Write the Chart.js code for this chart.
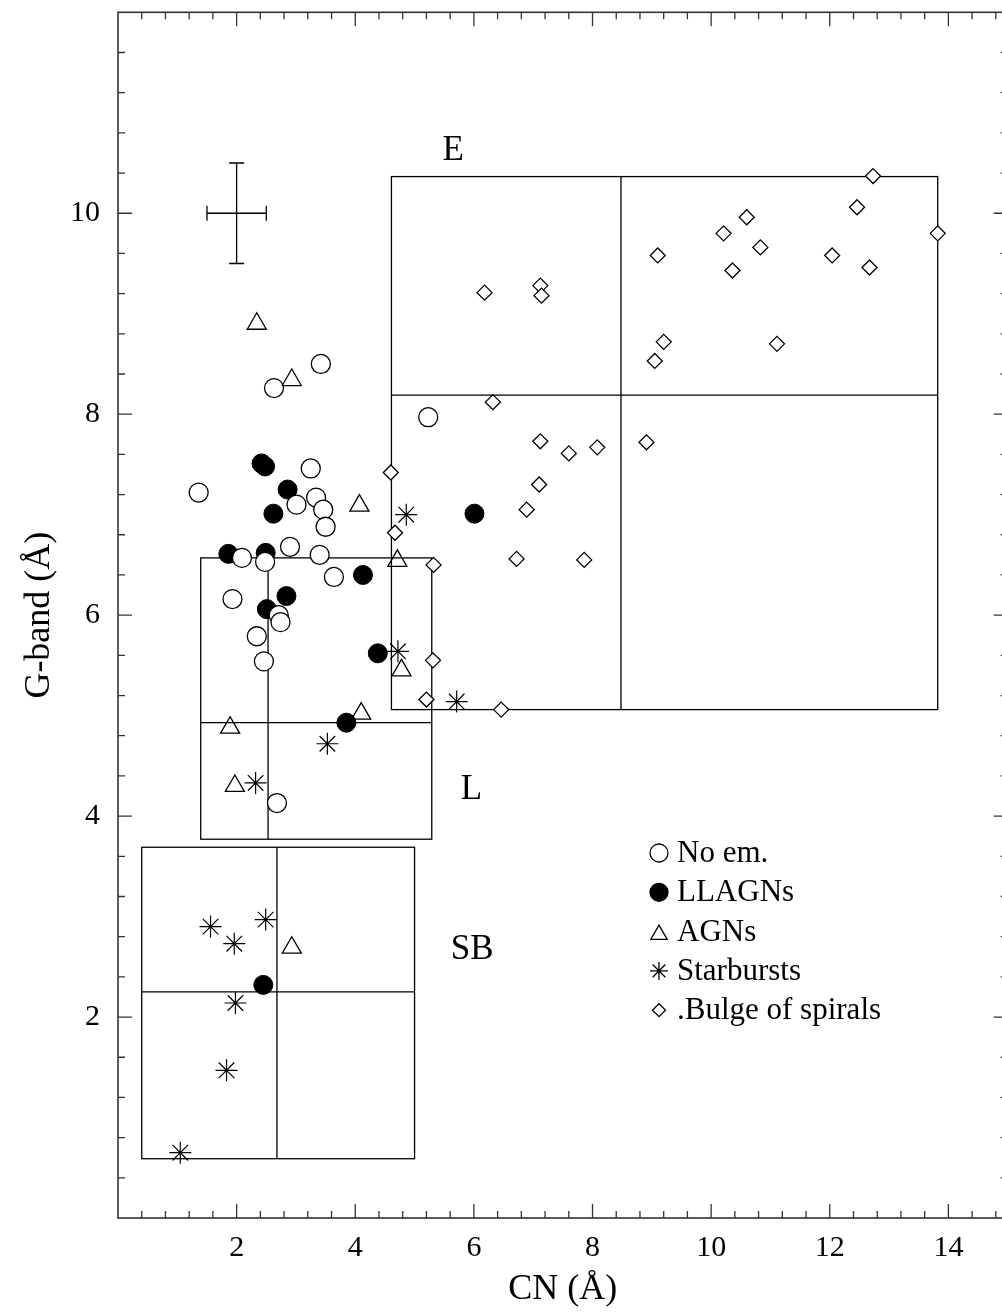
<!DOCTYPE html>
<html>
<head>
<meta charset="utf-8">
<script src="https://cdn.jsdelivr.net/npm/chart.js@4/dist/chart.umd.min.js"></script>
<style>
  html, body { margin: 0; padding: 0; overflow: hidden; background: #fff; }
  #wrap { width: 1020px; height: 1313px; }
</style>
</head>
<body>
<div id="wrap"><canvas id="c" width="1020" height="1313"></canvas></div>
<script>
// CN vs G-band equivalent widths (Å) for each galaxy class
const noEm = [
  [1.36, 7.22], [2.63, 8.26], [3.42, 8.50], [3.25, 7.46], [3.01, 7.10],
  [3.34, 7.17], [3.46, 7.05], [3.50, 6.88], [2.09, 6.57], [2.48, 6.53],
  [2.90, 6.68], [3.40, 6.60], [3.64, 6.38], [1.93, 6.16], [2.71, 6.00],
  [2.74, 5.93], [2.34, 5.79], [2.46, 5.54], [5.23, 7.97], [2.68, 4.13]
];
const llagn = [
  [2.42, 7.51], [2.48, 7.48], [2.86, 7.25], [2.62, 7.01], [6.01, 7.01],
  [1.86, 6.61], [2.49, 6.62], [4.13, 6.40], [2.84, 6.19], [2.51, 6.06],
  [4.38, 5.62], [3.85, 4.93], [2.45, 2.32]
];
const agn = [
  [2.34, 8.90], [2.93, 8.34], [4.07, 7.09], [4.71, 6.54], [4.78, 5.45],
  [4.10, 5.02], [1.89, 4.88], [1.97, 4.30], [2.93, 2.69]
];
const starbursts = [
  [4.86, 7.00], [4.72, 5.64], [5.71, 5.14], [3.53, 4.72], [2.32, 4.33],
  [1.56, 2.90], [2.49, 2.97], [1.96, 2.73], [1.98, 2.14], [1.83, 1.47],
  [1.05, 0.65]
];
const bulges = [
  [6.18, 9.21], [7.12, 9.28], [7.14, 9.18], [6.32, 8.12], [7.12, 7.73],
  [7.60, 7.61], [8.08, 7.67], [8.91, 7.72], [4.60, 7.42], [7.10, 7.30],
  [6.89, 7.05], [4.67, 6.82], [5.32, 6.50], [6.72, 6.56], [7.86, 6.55],
  [5.31, 5.55], [5.20, 5.16], [6.46, 5.06], [12.73, 10.37], [12.46, 10.06],
  [10.60, 9.96], [10.21, 9.80], [13.82, 9.80], [10.83, 9.66], [9.10, 9.58],
  [12.04, 9.58], [10.36, 9.43], [12.67, 9.46], [9.20, 8.72], [9.05, 8.53],
  [11.11, 8.70]
];
const seriesNames = ['No em.', 'LLAGNs', 'AGNs', 'Starbursts', '.Bulge of spirals'];

// Template regions: x = [left, divider, right], y = [bottom, divider, top]
const regionNames = ['E', 'L', 'SB'];
const eBoxX = [4.61, 8.48, 13.82];
const eBoxY = [5.06, 8.19, 10.365];
const lBoxX = [1.395, 2.53, 5.29];
const lBoxY = [3.77, 4.93, 6.57];
const sbBoxX = [0.40, 2.68, 5.00];
const sbBoxY = [0.59, 2.25, 3.69];

// Typical error bar
const errCenter = [2, 10];
const errHalf = [0.5, 0.5];

// Axis ticks
const xTickLabels = [2, 4, 6, 8, 10, 12, 14];
const yTickLabels = [2, 4, 6, 8, 10];

const FONT = "'Liberation Serif', 'Times New Roman', serif";
const toXY = a => a.map(([x, y]) => ({ x, y }));

// Label anchors for the region names (data units)
const regionLabelAt = { E: [5.65, 10.62], L: [5.96, 4.26], SB: [5.97, 2.67] };

function marker(ctx, style, radius, x, y, fill) {
  ctx.fillStyle = fill;
  ctx.strokeStyle = '#000';
  ctx.lineWidth = 1.3;
  Chart.helpers.drawPoint(ctx, { pointStyle: style, radius: radius, rotation: 0, borderWidth: 1.3 }, x, y);
}

const decor = {
  id: 'decor',
  beforeDatasetsDraw(chart) {
    const { ctx, scales: { x, y } } = chart;
    ctx.save();
    ctx.strokeStyle = '#000';
    ctx.lineWidth = 1.3;
    [[eBoxX, eBoxY], [lBoxX, lBoxY], [sbBoxX, sbBoxY]].forEach(([bx, by]) => {
      const l = x.getPixelForValue(bx[0]), m = x.getPixelForValue(bx[1]), r = x.getPixelForValue(bx[2]);
      const b = y.getPixelForValue(by[0]), h = y.getPixelForValue(by[1]), t = y.getPixelForValue(by[2]);
      ctx.strokeRect(l, t, r - l, b - t);
      ctx.beginPath();
      ctx.moveTo(m, t); ctx.lineTo(m, b);
      ctx.moveTo(l, h); ctx.lineTo(r, h);
      ctx.stroke();
    });
    // error cross
    const cx = x.getPixelForValue(errCenter[0]), cy = y.getPixelForValue(errCenter[1]);
    const x0 = x.getPixelForValue(errCenter[0] - errHalf[0]), x1 = x.getPixelForValue(errCenter[0] + errHalf[0]);
    const y0 = y.getPixelForValue(errCenter[1] - errHalf[1]), y1 = y.getPixelForValue(errCenter[1] + errHalf[1]);
    const cap = 7.5;
    ctx.beginPath();
    ctx.moveTo(x0, cy); ctx.lineTo(x1, cy);
    ctx.moveTo(x0, cy - cap); ctx.lineTo(x0, cy + cap);
    ctx.moveTo(x1, cy - cap); ctx.lineTo(x1, cy + cap);
    ctx.moveTo(cx, y0); ctx.lineTo(cx, y1);
    ctx.moveTo(cx - cap, y0); ctx.lineTo(cx + cap, y0);
    ctx.moveTo(cx - cap, y1); ctx.lineTo(cx + cap, y1);
    ctx.stroke();
    ctx.restore();
  },
  afterDraw(chart) {
    const { ctx, chartArea: a, scales: { x, y } } = chart;
    ctx.save();
    // frame
    ctx.strokeStyle = '#333';
    ctx.lineWidth = 1.6;
    ctx.strokeRect(a.left, a.top, a.right - a.left, a.bottom - a.top);
    // inward ticks, minor every 0.4, major every 2
    ctx.lineWidth = 1.3;
    ctx.beginPath();
    for (let i = 1; i * 0.4 < x.max - 1e-6; i++) {
      const px = x.getPixelForValue(i * 0.4);
      const len = i % 5 === 0 ? 14 : 7;
      ctx.moveTo(px, a.bottom); ctx.lineTo(px, a.bottom - len);
      ctx.moveTo(px, a.top); ctx.lineTo(px, a.top + len);
    }
    for (let i = 1; i * 0.4 < y.max - 1e-6; i++) {
      const py = y.getPixelForValue(i * 0.4);
      const len = i % 5 === 0 ? 14 : 7;
      ctx.moveTo(a.left, py); ctx.lineTo(a.left + len, py);
      ctx.moveTo(a.right, py); ctx.lineTo(a.right - len, py);
    }
    ctx.stroke();

    // region names
    ctx.fillStyle = '#000';
    ctx.font = '35px ' + FONT;
    ctx.textAlign = 'center';
    ctx.textBaseline = 'middle';
    regionNames.forEach(n => {
      const [vx, vy] = regionLabelAt[n];
      ctx.fillText(n, x.getPixelForValue(vx), y.getPixelForValue(vy));
    });

    // legend
    const styles = [
      ['circle', 9, '#fff'], ['circle', 9, '#000'], ['triangle', 9.5, 'rgba(0,0,0,0)'],
      ['star', 9, 'rgba(0,0,0,0)'], ['rectRot', 6.5, '#fff']
    ];
    const lx = 659, ly = 853, step = 39.3;
    seriesNames.forEach((name, i) => {
      const [st, r, f] = styles[i];
      const yy = ly + i * step;
      marker(ctx, st, r, lx, yy + (st === 'triangle' ? 3 : 0), f);
      ctx.fillStyle = '#000';
      ctx.font = '31px ' + FONT;
      ctx.textAlign = 'left';
      ctx.textBaseline = 'middle';
      ctx.fillText(name, lx + 18, yy + 1);
    });
    ctx.restore();
  }
};

// keep the plot frame exactly where the layout puts it
const noEdgePad = s => { s.paddingLeft = 0; s.paddingRight = 0; s.paddingTop = 0; s.paddingBottom = 0; };

new Chart(document.getElementById('c'), {
  type: 'scatter',
  data: {
    datasets: [
      { label: seriesNames[0], data: toXY(noEm), pointStyle: 'circle', pointRadius: 9.5,
        backgroundColor: '#fff', borderColor: '#000', borderWidth: 1.3, order: 1 },
      { label: seriesNames[1], data: toXY(llagn), pointStyle: 'circle', pointRadius: 9.5,
        backgroundColor: '#000', borderColor: '#000', borderWidth: 1, order: 2 },
      { label: seriesNames[2], data: toXY(agn), pointStyle: 'triangle', pointRadius: 11,
        backgroundColor: 'rgba(0,0,0,0)', borderColor: '#000', borderWidth: 1.3, order: 0 },
      { label: seriesNames[3], data: toXY(starbursts), pointStyle: 'star', pointRadius: 11,
        backgroundColor: 'rgba(0,0,0,0)', borderColor: '#000', borderWidth: 1.2, order: 0 },
      { label: seriesNames[4], data: toXY(bulges), pointStyle: 'rectRot', pointRadius: 7.5,
        backgroundColor: '#fff', borderColor: '#000', borderWidth: 1.3, order: 0 }
    ]
  },
  options: {
    responsive: false,
    animation: false,
    events: [],
    layout: { padding: { top: 12, right: 10, left: 0, bottom: 0 } },
    plugins: { legend: { display: false }, tooltip: { enabled: false } },
    scales: {
      x: {
        type: 'linear', min: 0, max: 15,
        grid: { display: false, drawTicks: false },
        border: { display: false },
        afterBuildTicks: s => { s.ticks = xTickLabels.map(v => ({ value: v })); },
        afterFit: s => { s.height = 95; noEdgePad(s); },
        ticks: { font: { family: FONT, size: 30 }, color: '#000', padding: 12, maxRotation: 0 },
        title: { display: true, text: 'CN (Å)', font: { family: FONT, size: 36, lineHeight: 1 },
                 color: '#000', padding: { top: 0, bottom: 5 } }
      },
      y: {
        type: 'linear', min: 0, max: 12,
        grid: { display: false, drawTicks: false },
        border: { display: false },
        afterBuildTicks: s => { s.ticks = yTickLabels.map(v => ({ value: v })); },
        afterFit: s => { s.width = 118; noEdgePad(s); },
        ticks: { font: { family: FONT, size: 30 }, color: '#000', padding: 18 },
        title: { display: true, text: 'G-band (Å)', font: { family: FONT, size: 36, lineHeight: 1 },
                 color: '#000', padding: { top: 22, bottom: 0 } }
      }
    }
  },
  plugins: [decor]
});
</script>
</body>
</html>
